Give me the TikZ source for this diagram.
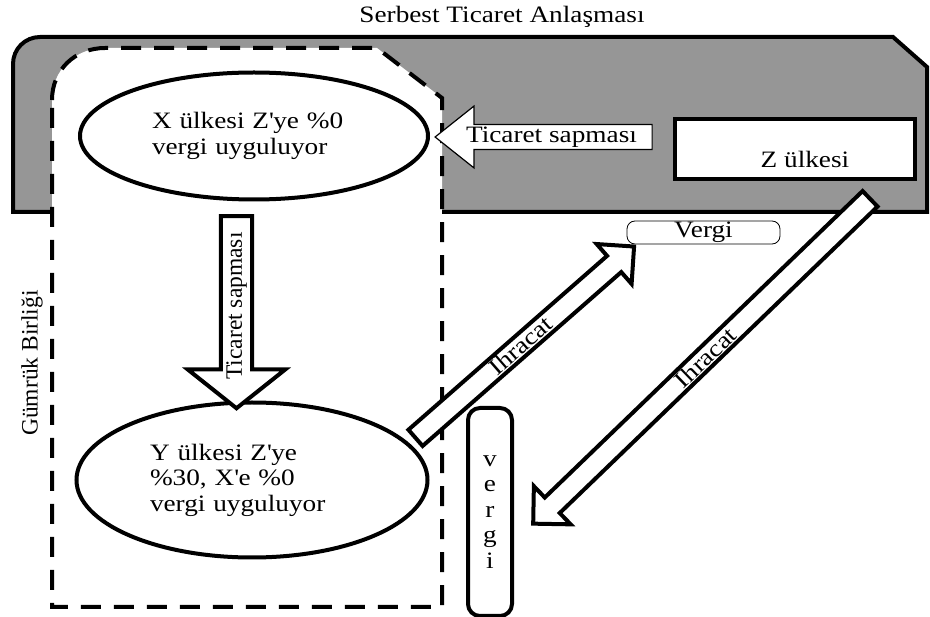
\documentclass[tikz,border=0pt]{standalone}
\usepackage{fontspec}
\setmainfont{Liberation Serif}[FakeStretch=1.16]
\newfontfamily\uprightfont{Liberation Serif}
\usepackage{tikz}
\usetikzlibrary{shapes}
\definecolor{ftagray}{RGB}{150,150,150}

\begin{document}
\begin{tikzpicture}[x=1pt, y=-1pt, font=\fontsize{23.5}{25.5}\selectfont,
    heavy/.style={line width=4pt},
    vtext/.style={font=\fontsize{23.5}{25.5}\uprightfont},
    hollow/.style={draw, heavy, fill=white, single arrow, inner sep=0pt},
    export/.style={hollow, minimum width=53pt, single arrow head extend=15pt, single arrow tip angle=90},
    country/.style={draw, heavy, ellipse, fill=white, inner sep=0pt, text width=204pt, align=left}]
    \useasboundingbox (0,0) rectangle (930,617);

    \fill[ftagray] (13,212) -- (13,64) .. controls (13,49) and (25,37) .. (40,37) -- (893,37) -- (927,67) -- (927,212) -- cycle;
    \draw[heavy, dash pattern=on 20pt off 13pt, fill=white] (52,100) .. controls (52,70) and (75,48) .. (105,48) -- (377,48) -- (442,98) -- (442,607) -- (52,607) -- cycle;
    \draw[heavy] (52,212) -- (13,212) -- (13,64) .. controls (13,49) and (25,37) .. (40,37) -- (893,37) -- (927,67) -- (927,212) -- (442,212);

    \node[anchor=base] (fta) at (502,23) {Serbest Ticaret Anlaşması};
    \node[vtext, rotate=90] (union) at (32,363) {Gümrük Birliği};

    \node[country, minimum width=348pt, minimum height=127pt] (xland) at (254,136) {X ülkesi Z\textquotesingle ye \%0\\vergi uyguluyor};
    \node[country, minimum width=351pt, minimum height=155pt] (yland) at (252,480) {Y ülkesi Z\textquotesingle ye\\\%30, X\textquotesingle e \%0\\vergi uyguluyor};
    \node[draw, heavy, fill=white, minimum width=240pt, minimum height=60pt, text height=38pt, text depth=0pt, inner sep=0pt] (zland) at (795,149) {\hspace*{20pt}Z ülkesi};
    \node[draw, line width=0.8pt, rounded corners=8pt, fill=white, minimum width=153pt, minimum height=23pt, inner sep=0pt] (taxz) at (703.5,232.5) {Vergi};
    \node[draw, heavy, rounded corners=12pt, fill=white, minimum width=44pt, minimum height=208pt, inner sep=0pt, align=center] (taxy) at (490,512) {v\\e\\r\\g\\i};

    \node[hollow, line width=1.2pt, shape border rotate=180, minimum height=217pt, minimum width=62pt, single arrow head extend=16pt, single arrow tip angle=77] (divertz) at (551.5,137) {Ticaret sapması};
    \node[hollow, vtext, rotate=90, shape border rotate=180, minimum height=192pt, minimum width=98pt, single arrow head extend=26pt, single arrow tip angle=103] (divertx) at (236.5,306) {Ticaret sapması};
    \node[export, rotate=41.2, minimum height=290.5pt] (exporty) at (520.75,345.75) {Ihracat};
    \node[export, rotate=43.96, shape border rotate=180, minimum height=468pt] (exportz) at (705.5,357.5) {Ihracat};
\end{tikzpicture}
\end{document}
